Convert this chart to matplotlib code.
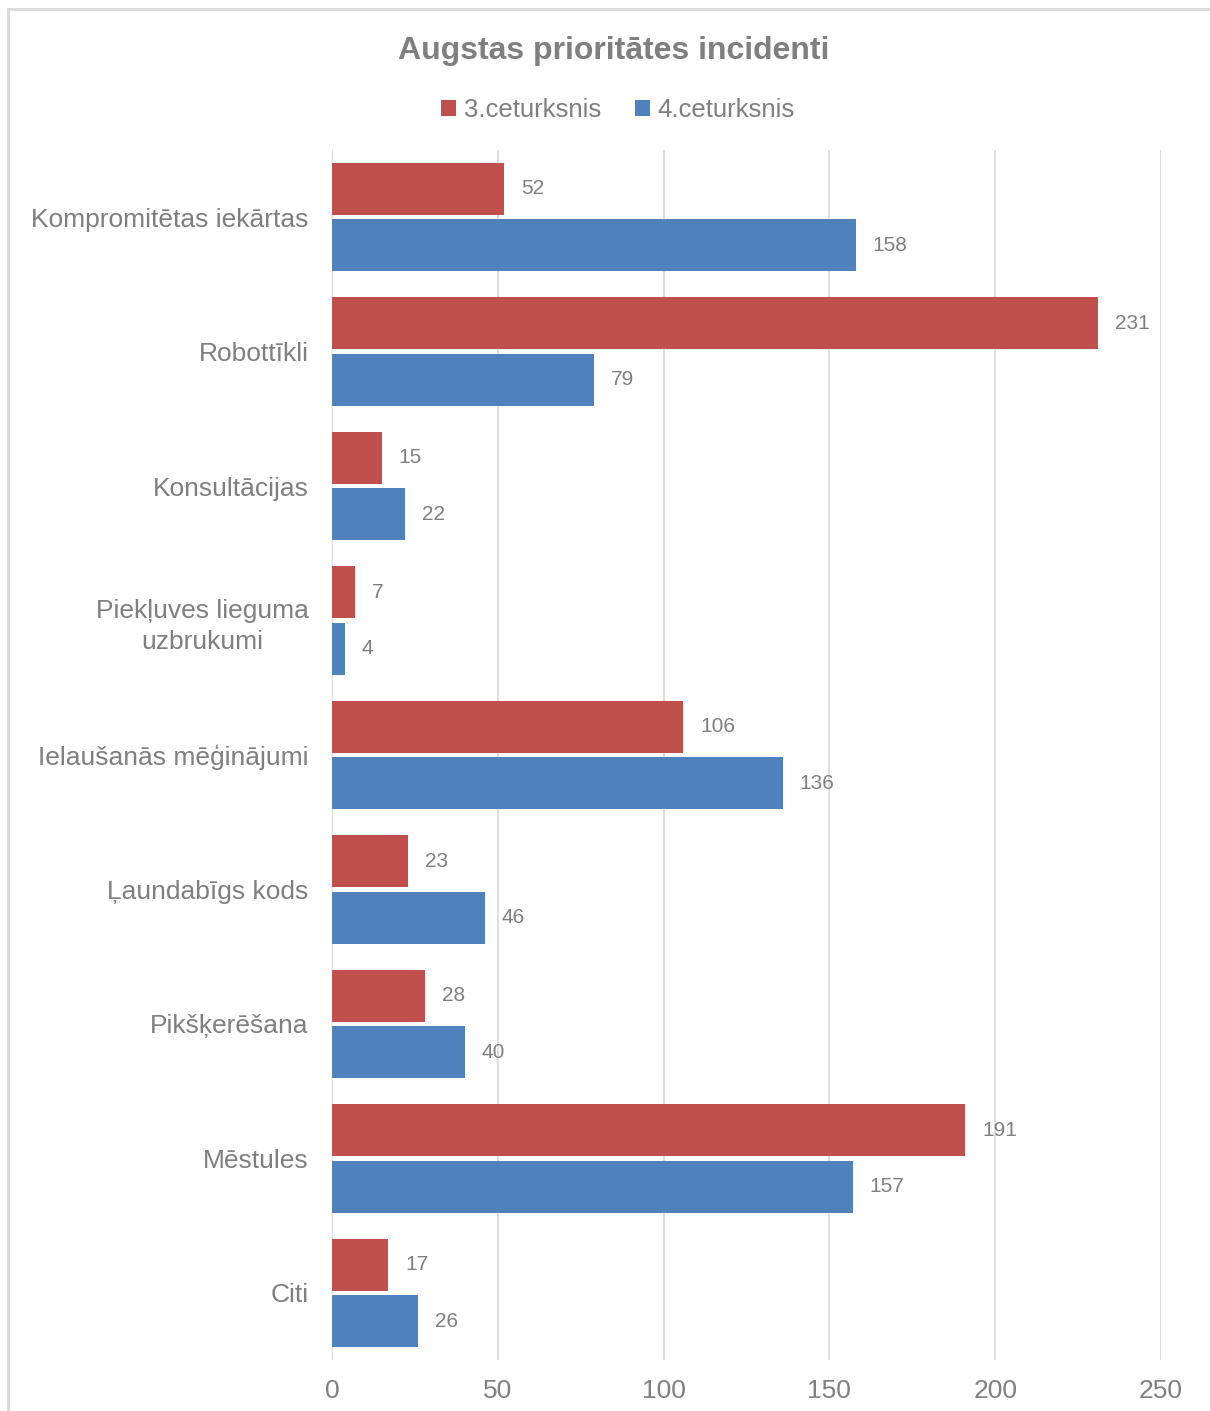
import numpy as np
import matplotlib.pyplot as plt
from matplotlib.lines import Line2D

# data
categories = ["Kompromitētas iekārtas", "Robottīkli", "Konsultācijas",
              "Piekļuves lieguma\nuzbrukumi", "Ielaušanās mēģinājumi",
              "Ļaundabīgs kods", "Pikšķerēšana", "Mēstules", "Citi"]
q3 = [52, 231, 15, 7, 106, 23, 28, 191, 17]
q4 = [158, 79, 22, 4, 136, 46, 40, 157, 26]
series_names = ["3.ceturksnis", "4.ceturksnis"]
xticks = [0, 50, 100, 150, 200, 250]

red = "#C0504D"
blue = "#4F81BD"
txt = "#7f7f7f"
plt.rcParams['font.family'] = ['Liberation Sans', 'DejaVu Sans']

fig = plt.figure(figsize=(12.1, 14.11), dpi=100)
ax = fig.add_axes([332 / 1210, 1 - 1360 / 1411, (1161 - 332) / 1210, (1360 - 150) / 1411])

y = np.arange(len(categories))
h = 0.387
off = 0.21
b1 = ax.barh(y - off, q3, height=h, color=red, label=series_names[0], zorder=3)
b2 = ax.barh(y + off, q4, height=h, color=blue, label=series_names[1], zorder=3)

for bars, vals in ((b1, q3), (b2, q4)):
    for bar, v in zip(bars, vals):
        ax.annotate(str(v), (bar.get_width(), bar.get_y() + bar.get_height() / 2),
                    xytext=(12, 0), textcoords="offset points", va="center",
                    ha="left", fontsize=15, color=txt)

ax.set_ylim(len(categories) - 0.5, -0.5)
ax.set_xlim(0, 250)
ax.set_xticks(xticks)
ax.set_yticks(y)
ax.set_yticklabels(categories, multialignment="center", linespacing=1.35)
ax.tick_params(axis="y", length=0, pad=17, labelsize=19, labelcolor=txt)
ax.tick_params(axis="x", length=0, pad=14, labelsize=19, labelcolor=txt)
ax.grid(axis="x", color="#d9d9d9", linewidth=1.2, zorder=0)
for s in ax.spines.values():
    s.set_visible(False)

fig.text(614 / 1210, 1 - 51 / 1411, "Augstas prioritātes incidenti", ha="center",
         va="center", fontsize=23, fontweight="bold", color=txt)
fig.legend(handles=[b1, b2], loc="center", bbox_to_anchor=(618 / 1210, 1 - 110 / 1411),
           ncol=2, frameon=False, fontsize=18.5, labelcolor=txt, handlelength=0.6,
           handleheight=0.6, handletextpad=0.3, columnspacing=1.3)

# chart frame
fig.add_artist(Line2D([8 / 1210, 1], [1 - 9 / 1411] * 2, color="#d9d9d9", lw=2))
fig.add_artist(Line2D([8 / 1210] * 2, [0, 1 - 9 / 1411], color="#d9d9d9", lw=2))

fig.savefig("out.png", dpi=100)
